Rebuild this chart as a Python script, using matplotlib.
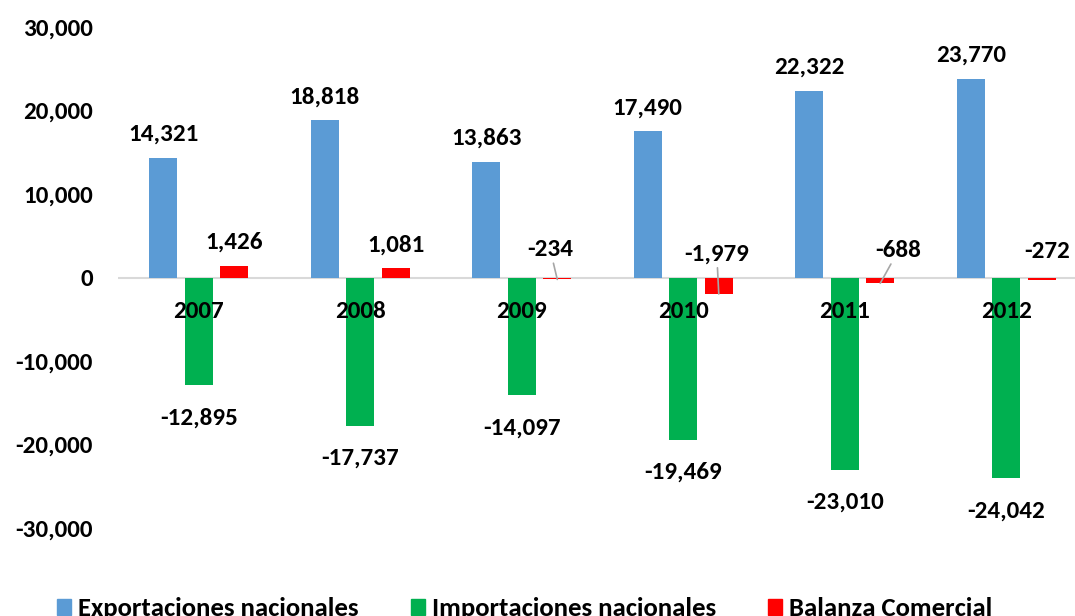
import matplotlib.pyplot as plt
import numpy as np
from matplotlib.patches import Patch
from matplotlib.ticker import FuncFormatter

# Balanza comercial (valores por año)
years = ["2007", "2008", "2009", "2010", "2011", "2012"]
exportaciones = [14321, 18818, 13863, 17490, 22322, 23770]
importaciones = [-12895, -17737, -14097, -19469, -23010, -24042]
balanza = [1426, 1081, -234, -1979, -688, -272]

series_names = ["Exportaciones nacionales", "Importaciones nacionales", "Balanza Comercial"]
colors = ["#5B9BD5", "#00B050", "#FF0000"]

plt.rcParams["font.family"] = ["Carlito", "DejaVu Sans"]
plt.rcParams["font.weight"] = "bold"
plt.rcParams["font.size"] = 18

PX = 0.72  # pixels -> points at 100 dpi

fig = plt.figure(figsize=(10.75, 6.16), dpi=100)
ax = fig.add_axes([118 / 1075, 1 - 528 / 616, (1087 - 118) / 1075, (528 - 27) / 616])
ax.set_xlim(-0.5, len(years) - 0.5)
ax.set_ylim(-30000, 30000)

x = np.arange(len(years))
w = 0.173
step = 0.22

ax.bar(x - step, exportaciones, w, color=colors[0], zorder=2)
ax.bar(x, importaciones, w, color=colors[1], zorder=2)
ax.bar(x + step, balanza, w, color=colors[2], zorder=2)
ax.axhline(0, color="#D9D9D9", lw=1.5, zorder=1)

for s in ax.spines.values():
    s.set_visible(False)
ax.set_xticks([])
ax.set_yticks(np.arange(-30000, 30001, 10000))
ax.yaxis.set_major_formatter(FuncFormatter(lambda v, p: f"{v:,.0f}"))
ax.tick_params(axis="y", length=0, pad=18)

fmt = lambda v: f"{v:,.0f}"

# etiquetas de exportaciones / importaciones
for i in range(len(years)):
    ax.annotate(fmt(exportaciones[i]), (x[i] - step, exportaciones[i]), xytext=(0, 17 * PX),
                textcoords="offset points", ha="center", va="baseline", zorder=4)
    ax.annotate(fmt(importaciones[i]), (x[i], importaciones[i]), xytext=(0, -39 * PX),
                textcoords="offset points", ha="center", va="baseline", zorder=4)
    ax.annotate(years[i], (x[i], 0), xytext=(0, -41 * PX),
                textcoords="offset points", ha="center", va="baseline", zorder=5)

# etiquetas de balanza (algunas con línea guía)
bal_offsets = [(0, 17), (0, 17), (-7, 23), (-2, 33), (18, 26), (5, 22)]
bal_leader = [False, False, True, True, True, False]
for i in range(len(years)):
    dx, dy = bal_offsets[i]
    kw = {}
    if bal_leader[i]:
        kw["arrowprops"] = dict(arrowstyle="-", color="#A6A6A6", lw=1.2, shrinkA=0, shrinkB=0)
    ax.annotate(fmt(balanza[i]), (x[i] + step, balanza[i]), xytext=(dx * PX, dy * PX),
                textcoords="offset points", ha="center", va="baseline", zorder=4, **kw)

handles = [Patch(color=c, label=n) for c, n in zip(colors, series_names)]
fig.legend(handles=handles, loc="center", bbox_to_anchor=(0.488, 1 - 609 / 616), ncol=3,
           frameon=False, fontsize=19.3, handlelength=0.52, handleheight=0.49,
           handletextpad=0.26, columnspacing=1.95, borderpad=0, borderaxespad=0)

fig.savefig("out.png", dpi=100)
